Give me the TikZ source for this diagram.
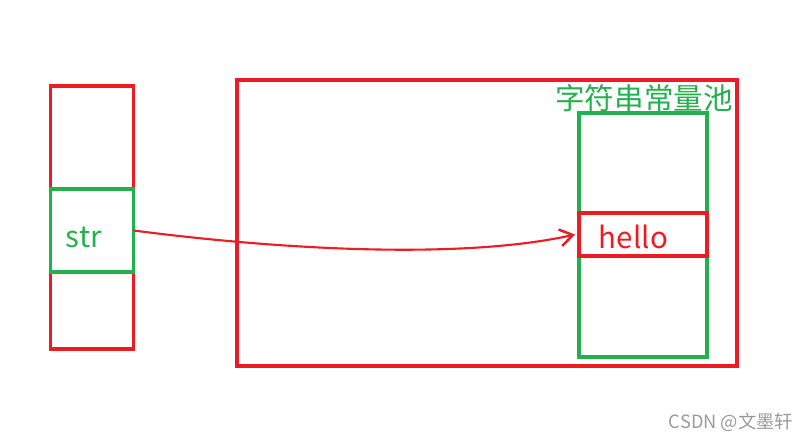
\documentclass[tikz,border=0pt]{standalone}
\usepackage{fontspec}
\setmainfont{Noto Sans CJK SC}
\usetikzlibrary{arrows.meta,calc,positioning}
\definecolor{paintred}{HTML}{ED1C24}
\definecolor{paintgreen}{HTML}{22B14C}
\definecolor{markgray}{HTML}{9A9A9A}

\begin{document}
\begin{tikzpicture}[
    x = 0.025cm, y = -0.025cm,
    line width = 2.8pt,
    cell/.style  = { draw, inner sep=0pt, outer sep=0pt },
    rcell/.style = { cell, draw=paintred },
    gcell/.style = { cell, draw=paintgreen },
    txt/.style   = { inner sep=0pt, font=\fontsize{21}{25}\selectfont },
    ref line/.style = { line width = 1.5pt, paintred,
            -{Straight Barb[length=9pt, width=12pt, line width=1.8pt]} }
]
\useasboundingbox (0,0) rectangle (809,443);

% stack
\node[rcell, minimum width=2.075cm, minimum height=6.575cm] (stack) at (92,217.5) {};
\node[gcell, minimum width=2.075cm, minimum height=2.075cm] (strbox) at (92,230.5) {};
\node[txt, paintgreen, anchor=base west] (strtxt) at (64,247) {str};

% string pool
\node[rcell, minimum width=12.5cm, minimum height=7.15cm] (pool) at (487,223) {};
\node[gcell, minimum width=3.2cm, minimum height=6.1cm] (poolcol) at (643,235) {};
\node[rcell, minimum width=3.2cm, minimum height=1.075cm] (hellobox) at (643,234.5) {};
\node[txt, paintred, anchor=base west] (hellotxt) at (597,248) {hello};
\node[txt, paintgreen] (pooltitle) at (644,98) {字符串常量池};

\draw[ref line] (strbox.east) .. controls (300,252) and (470,258)
  .. ([xshift=-0.1cm]hellobox.west);

\node[inner sep=0pt, markgray, font=\fontsize{13}{15}\selectfont, anchor=east]
  (mark) at (795,422) {CSDN @文墨轩};
\end{tikzpicture}
\end{document}
